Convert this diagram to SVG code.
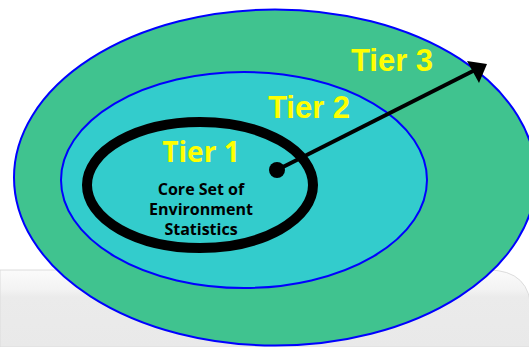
<svg xmlns="http://www.w3.org/2000/svg" width="529" height="347" viewBox="0 0 529 347">
<defs>
<linearGradient id="panel" x1="0" y1="0" x2="0" y2="1">
<stop offset="0" stop-color="#fbfbfb"/>
<stop offset="0.25" stop-color="#f3f3f3"/>
<stop offset="0.35" stop-color="#ebebeb"/>
<stop offset="1" stop-color="#e9e9e9"/>
</linearGradient>
<style>
.tier{font-family:"Liberation Sans",Arial,sans-serif;font-weight:bold;font-size:31px;fill:#ffff00;text-anchor:middle}
.t1{font-family:"Open Sans","Liberation Sans",sans-serif;font-weight:bold;font-size:28px;fill:#ffff00;text-anchor:middle}
.core{font-family:"Open Sans","Liberation Sans",sans-serif;font-weight:bold;font-size:16px;fill:#000;text-anchor:middle}
</style>
</defs>
<rect width="529" height="347" fill="#fff"/>
<path d="M0,270 H488 Q531,270 531,312 V347 H0 Z" fill="url(#panel)" stroke="#dcdcdc" stroke-width="1"/>
<g id="tier3">
<ellipse cx="275" cy="177.5" rx="261" ry="168" fill="#40c38f" stroke="#0000ff" stroke-width="2"/>
<text class="tier" x="392" y="71">Tier 3</text>
</g>
<g id="tier2">
<ellipse cx="244" cy="180" rx="183" ry="108" fill="#33cccc" stroke="#0000ff" stroke-width="2"/>
<text class="tier" x="309" y="118">Tier 2</text>
</g>
<g id="tier1">
<ellipse cx="200" cy="185" rx="113" ry="63" fill="none" stroke="#000" stroke-width="10"/>
<text class="t1" x="201" y="162">Tier 1</text>
<text class="core" x="201" y="195">Core Set of</text>
<text class="core" x="201" y="215">Environment</text>
<text class="core" x="201" y="235">Statistics</text>
</g>
<g id="connectors">
<circle cx="277" cy="170" r="8" fill="#000"/>
<line x1="277" y1="170" x2="475" y2="70" stroke="#000" stroke-width="4"/>
<path d="M487,64 L467,61 L479,83 Z" fill="#000"/>
</g>
</svg>
